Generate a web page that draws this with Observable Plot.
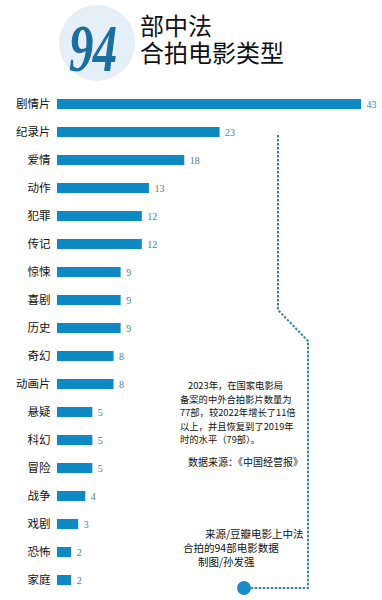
<!DOCTYPE html>
<html><head><meta charset="utf-8">
<script src="https://cdn.jsdelivr.net/npm/d3@7"></script>
<script src="https://cdn.jsdelivr.net/npm/@observablehq/plot@0.6"></script>
<style>
body{margin:0;background:#fff;width:382px;height:600px;overflow:hidden;font-family:"Noto Sans CJK SC",sans-serif;}
#head{position:relative;height:85px;width:382px;}
#circ{position:absolute;left:59px;top:5px;width:76px;height:76px;border-radius:50%;background:#e4eff7;}
#num{position:absolute;left:69px;top:14px;font-family:"Liberation Serif",serif;font-style:italic;font-weight:bold;font-size:68px;line-height:68px;color:#1d6d9f;transform:scaleX(0.72);transform-origin:left top;letter-spacing:-1px;}
#ttl{position:absolute;left:140px;top:13px;font-family:"Liberation Sans","Noto Sans CJK SC",sans-serif;font-size:24px;line-height:27px;color:#111;white-space:nowrap;}
</style></head>
<body>
<div id="head">
  <div id="circ"></div>
  <div id="num">94</div>
  <div id="ttl">部中法<br>合拍电影类型</div>
</div>
<div id="chart"></div>
<script>
const categories = ["剧情片","纪录片","爱情","动作","犯罪","传记","惊悚","喜剧","历史","奇幻","动画片","悬疑","科幻","冒险","战争","戏剧","恐怖","家庭"];
const counts = [43,23,18,13,12,12,9,9,9,8,8,5,5,5,4,3,2,2];
const noteLines = ["2023年，在国家电影局","备案的中外合拍影片数量为","77部，较2022年增长了11倍","以上，并且恢复到了2019年","时的水平（79部）。"];
const noteSource = "数据来源：《中国经营报》";
const creditLines = ["来源/豆瓣电影上中法","合拍的94部电影数据","制图/孙发强"];

const data = categories.map((c,i)=>({cat:c, v:counts[i]}));

const plot = Plot.plot({
  width: 382, height: 515,
  marginLeft: 57, marginRight: 21, marginTop: 0, marginBottom: 0,
  style: {fontFamily: '"Noto Sans CJK SC", sans-serif', background: "transparent"},
  x: {domain: [0, 43], axis: null},
  y: {domain: categories, range: [8, 506], paddingInner: 0.652, paddingOuter: 0},
  marks: [
    Plot.barX(data, {x: "v", y: "cat", fill: "#0f89c5"}),
    Plot.text(data, {x: "v", y: "cat", text: d => String(d.v), dx: 5, textAnchor: "start",
      fill: "#4a8299", fontSize: 10, fontFamily: '"Liberation Serif", serif'}),
    Plot.axisY({tickSize: 0, tickPadding: 7, fontSize: 11.5, color: "#111", label: null})
  ]
});
document.getElementById("chart").appendChild(plot);

// decorations (page y minus 85)
const svg = d3.select(plot);
const off = 85;
const pts = [[278,135],[278,310],[308,341],[308,588],[250,588]].map(([x,y])=>[x,y-off]);
svg.append("path").attr("d", d3.line()(pts)).attr("fill","none")
  .attr("stroke","#3a85a0").attr("stroke-width",2).attr("stroke-dasharray","2.5,1.5");
svg.append("circle").attr("cx",244).attr("cy",588-off).attr("r",7).attr("fill","#1a8cc8");

const g = svg.append("g").attr("font-family",'"Noto Sans CJK SC", sans-serif')
  .attr("fill","#111").attr("text-anchor","start");
const noteX = [188,180,180,180,180];
noteLines.forEach((t,i)=>{
  g.append("text").attr("x",noteX[i]).attr("y",389+i*13.5-off).attr("font-size",9.3).text(t);
});
g.append("text").attr("x",188).attr("y",466-off).attr("font-size",10).text(noteSource);
const credX = [205,183,198];
creditLines.forEach((t,i)=>{
  g.append("text").attr("x",credX[i]).attr("y",538+i*14-off).attr("font-size",10.5).text(t);
});
</script>
</body></html>
